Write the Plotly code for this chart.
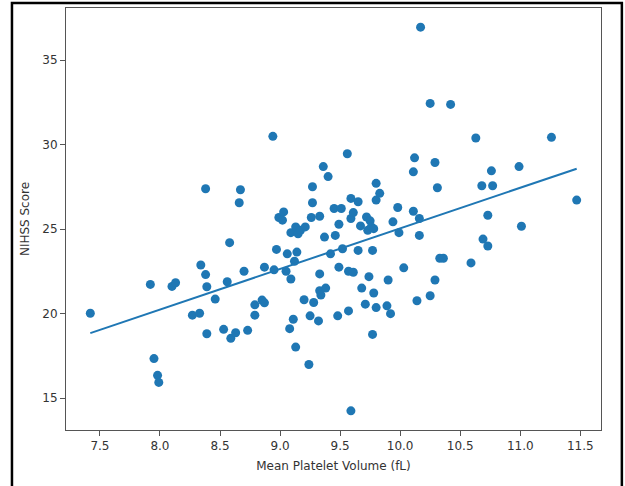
import numpy as np
import plotly.graph_objects as go

mpv = [7.42, 7.92, 7.95, 7.98, 7.99, 8.10, 8.13, 8.27, 8.33, 8.34,
       8.38, 8.38, 8.39, 8.39, 8.46, 8.53, 8.59, 8.63, 8.56, 8.58,
       8.67, 8.66, 8.70, 8.73, 8.79, 8.79, 8.85, 8.87, 8.87, 8.94,
       8.95, 8.97, 8.99, 9.02, 9.03, 9.05, 9.06, 9.08, 9.09, 9.09,
       9.11, 9.12, 9.13, 9.13, 9.14, 9.15, 9.17, 9.21, 9.20, 9.24,
       9.25, 9.26, 9.27, 9.27, 9.28, 9.32, 9.33, 9.33, 9.33, 9.34,
       9.36, 9.37, 9.38, 9.40, 9.42, 9.45, 9.46, 9.48, 9.49, 9.49,
       9.51, 9.52, 9.56, 9.57, 9.57, 9.59, 9.59, 9.59, 9.61, 9.61,
       9.65, 9.65, 9.67, 9.68, 9.71, 9.72, 9.73, 9.74, 9.75, 9.76,
       9.77, 9.77, 9.78, 9.78, 9.80, 9.80, 9.80, 9.83, 9.89, 9.90,
       9.92, 9.94, 9.98, 9.99, 10.03, 10.11, 10.11, 10.12, 10.14, 10.16,
       10.16, 10.17, 10.25, 10.25, 10.29, 10.29, 10.31, 10.33, 10.36, 10.42,
       10.59, 10.63, 10.68, 10.69, 10.73, 10.73, 10.76, 10.77, 10.99, 11.01,
       11.26, 11.47]

nihss = [20.02, 21.73, 17.34, 16.35, 15.93, 21.61, 21.83, 19.91, 20.02, 22.88,
         22.31, 27.39, 21.59, 18.81, 20.86, 19.07, 18.54, 18.87, 21.89, 24.20,
         27.33, 26.56, 22.51, 19.01, 20.52, 19.91, 20.80, 20.64, 22.75, 30.49,
         22.59, 23.80, 25.69, 25.53, 26.02, 22.51, 23.54, 19.11, 24.79, 22.05,
         19.67, 23.10, 18.02, 25.13, 23.64, 24.73, 24.93, 25.13, 20.82, 16.99,
         19.87, 25.69, 27.51, 26.56, 20.66, 19.57, 25.76, 22.35, 21.36, 21.10,
         28.70, 24.53, 21.51, 28.11, 23.54, 26.22, 24.63, 19.87, 25.29, 22.75,
         26.22, 23.84, 29.46, 20.16, 22.51, 25.63, 26.82, 14.25, 22.45, 25.98,
         23.74, 26.62, 25.19, 21.51, 20.56, 25.72, 24.93, 22.19, 25.49, 25.13,
         23.74, 18.77, 25.03, 21.22, 27.71, 26.72, 20.36, 27.12, 20.46, 21.99,
         20.00, 25.43, 26.28, 24.79, 22.71, 26.06, 28.39, 29.22, 20.76, 25.63,
         24.63, 36.95, 32.44, 21.06, 28.94, 21.99, 27.45, 23.28, 23.28, 32.38,
         23.00, 30.39, 27.57, 24.41, 25.82, 24.00, 28.45, 27.57, 28.70, 25.17,
         30.43, 26.72]

x_ticks = [7.5, 8.0, 8.5, 9.0, 9.5, 10.0, 10.5, 11.0, 11.5]
y_ticks = [15, 20, 25, 30, 35]

x = np.array(mpv)
y = np.array(nihss)
slope, intercept = np.polyfit(x, y, 1)
x_line = np.array([x.min(), x.max()])
y_line = slope * x_line + intercept

def pad(a):
    span = a.max() - a.min()
    return [a.min() - 0.05 * span, a.max() + 0.05 * span]

blue = "#1f77b4"
fig = go.Figure()
fig.add_trace(go.Scatter(x=mpv, y=nihss, mode="markers",
                         marker=dict(size=9, color=blue, line=dict(width=0)),
                         showlegend=False, hoverinfo="skip"))
fig.add_trace(go.Scatter(x=x_line, y=y_line, mode="lines",
                         line=dict(color=blue, width=2), showlegend=False,
                         hoverinfo="skip"))

axis_common = dict(showgrid=False, zeroline=False, showline=True, mirror=True,
                   linecolor="#555555", linewidth=1, ticks="outside", ticklen=5,
                   tickcolor="#555555", tickwidth=1,
                   tickfont=dict(family="DejaVu Sans", size=12, color="#333333"))

fig.update_layout(
    width=625, height=486,
    margin=dict(l=66, r=24, t=8, b=56),
    paper_bgcolor="white", plot_bgcolor="white",
    xaxis=dict(range=pad(x), tickvals=x_ticks,
               ticktext=[f"{v:.1f}" for v in x_ticks],
               title=dict(text="Mean Platelet Volume (fL)", standoff=9,
                          font=dict(family="DejaVu Sans", size=12, color="#333333")),
               **axis_common),
    yaxis=dict(range=pad(y), tickvals=y_ticks,
               ticktext=[str(v) for v in y_ticks],
               title=dict(text="NIHSS Score", standoff=10,
                          font=dict(family="DejaVu Sans", size=12, color="#333333")),
               **axis_common),
    shapes=[dict(type="rect", xref="paper", yref="paper",
                 x0=-0.101, x1=1.039, y0=-0.2, y1=1.012,
                 line=dict(color="black", width=2.5), layer="below")],
)

fig.write_html("out.html",
               config={"displayModeBar": False},
               post_script="document.body.style.margin='0';document.body.style.overflow='hidden';")
